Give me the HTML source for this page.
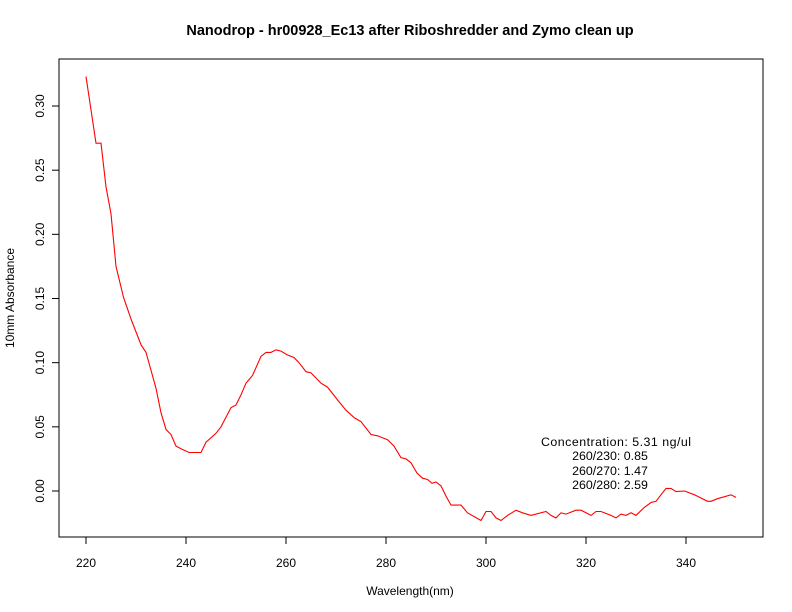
<!DOCTYPE html>
<html><head><meta charset="utf-8"><style>
body{margin:0;background:#fff}
svg{display:block;font-family:"Liberation Sans",Arial,sans-serif}
</style></head><body>
<svg id="c" width="792" height="612" viewBox="0 0 792 612">
<rect x="0" y="0" width="792" height="612" fill="#fff"/>
<text x="410" y="35" text-anchor="middle" font-size="14.5" font-weight="bold">Nanodrop - hr00928_Ec13 after Riboshredder and Zymo clean up</text>
<rect x="59" y="59" width="704" height="478" fill="none" stroke="#000" stroke-width="1"/>
<g id="xaxis"></g>
<g id="yaxis"></g>
<text x="410" y="595" text-anchor="middle" font-size="12">Wavelength(nm)</text>
<text transform="translate(14,298) rotate(-90)" text-anchor="middle" font-size="12">10mm Absorbance</text>
<path id="line" fill="none" stroke="#ff0000" stroke-width="1.1"/>
<g font-size="12.4" text-anchor="middle">
<text x="616" y="446" textLength="150">Concentration: 5.31 ng/ul</text>
<text x="610" y="460">260/230: 0.85</text>
<text x="610" y="475">260/270: 1.47</text>
<text x="610" y="489">260/280: 2.59</text>
</g>
</svg>
<script>
const wavelengths=[220,222,223,224,225,226,227.5,229,231,232,234,235,236,237,238,239,240.6,243,244,246,247,249,250,251,252,253.3,255,256,257,258,259,260.3,261.6,262.6,264,265,267,268.3,270.3,272,273.7,275,277,278.3,280.3,281.6,283,284,285,286.2,287.3,288.3,289.2,290,291,292,293,295,296.3,299,300,301,302,303,304.3,306,307.3,309,312,313,314,315,316,318,319,320,321,322,323,325,326,327,328,329,330,331.6,333,334,335,336,337,338,339.7,341.7,344.3,345,346.3,349,350];
const absorbance=[0.323,0.271,0.271,0.237,0.216,0.175,0.151,0.134,0.114,0.108,0.080,0.061,0.048,0.044,0.035,0.033,0.030,0.030,0.038,0.045,0.050,0.065,0.067,0.075,0.084,0.090,0.105,0.108,0.108,0.110,0.109,0.106,0.104,0.100,0.093,0.092,0.084,0.081,0.071,0.063,0.057,0.054,0.044,0.043,0.040,0.035,0.026,0.025,0.022,0.014,0.010,0.009,0.006,0.007,0.004,-0.004,-0.011,-0.011,-0.017,-0.023,-0.016,-0.016,-0.021,-0.023,-0.019,-0.015,-0.017,-0.019,-0.016,-0.019,-0.021,-0.017,-0.018,-0.015,-0.015,-0.017,-0.019,-0.016,-0.016,-0.019,-0.021,-0.018,-0.019,-0.017,-0.019,-0.013,-0.009,-0.008,-0.003,0.002,0.002,-0.0005,0.000,-0.003,-0.008,-0.008,-0.006,-0.003,-0.005];
const xTicks=[220,240,260,280,300,320,340];
const yTicks=[0,0.05,0.10,0.15,0.20,0.25,0.30];
const yTickLabels=["0.00","0.05","0.10","0.15","0.20","0.25","0.30"];
const NS="http://www.w3.org/2000/svg";
function xs(v){return 86+(v-220)*5;}
function ys(v){return 491-v*1283.3;}
function mk(tag,attrs,parent){const e=document.createElementNS(NS,tag);for(const k in attrs)e.setAttribute(k,attrs[k]);parent.appendChild(e);return e;}
const xa=document.getElementById('xaxis'),ya=document.getElementById('yaxis');
mk('line',{x1:xs(xTicks[0]),x2:xs(xTicks[xTicks.length-1]),y1:537,y2:537,stroke:'#000'},xa);
xTicks.forEach(t=>{
 const l=mk('line',{x1:xs(t),x2:xs(t),y1:537,y2:544,stroke:'#000'},xa);
 
 
 const tx=mk('text',{x:xs(t),y:567,'text-anchor':'middle','font-size':12},xa);
 tx.textContent=t;
 
 
});
mk('line',{x1:59,x2:59,y1:ys(yTicks[0]),y2:ys(yTicks[yTicks.length-1]),stroke:'#000'},ya);
yTicks.forEach((t,i)=>{
 const l=mk('line',{x1:52,x2:59,y1:ys(t),y2:ys(t),stroke:'#000'},ya);
 
 
 const tx=mk('text',{transform:`translate(44,${ys(t)}) rotate(-90)`,'text-anchor':'middle','font-size':12},ya);
 tx.textContent=yTickLabels[i];
 
 
});
document.getElementById('line').setAttribute('d',wavelengths.map((w,i)=>(i?'L':'M')+xs(w).toFixed(1)+','+ys(absorbance[i]).toFixed(1)).join(''));
</script>
</body></html>
